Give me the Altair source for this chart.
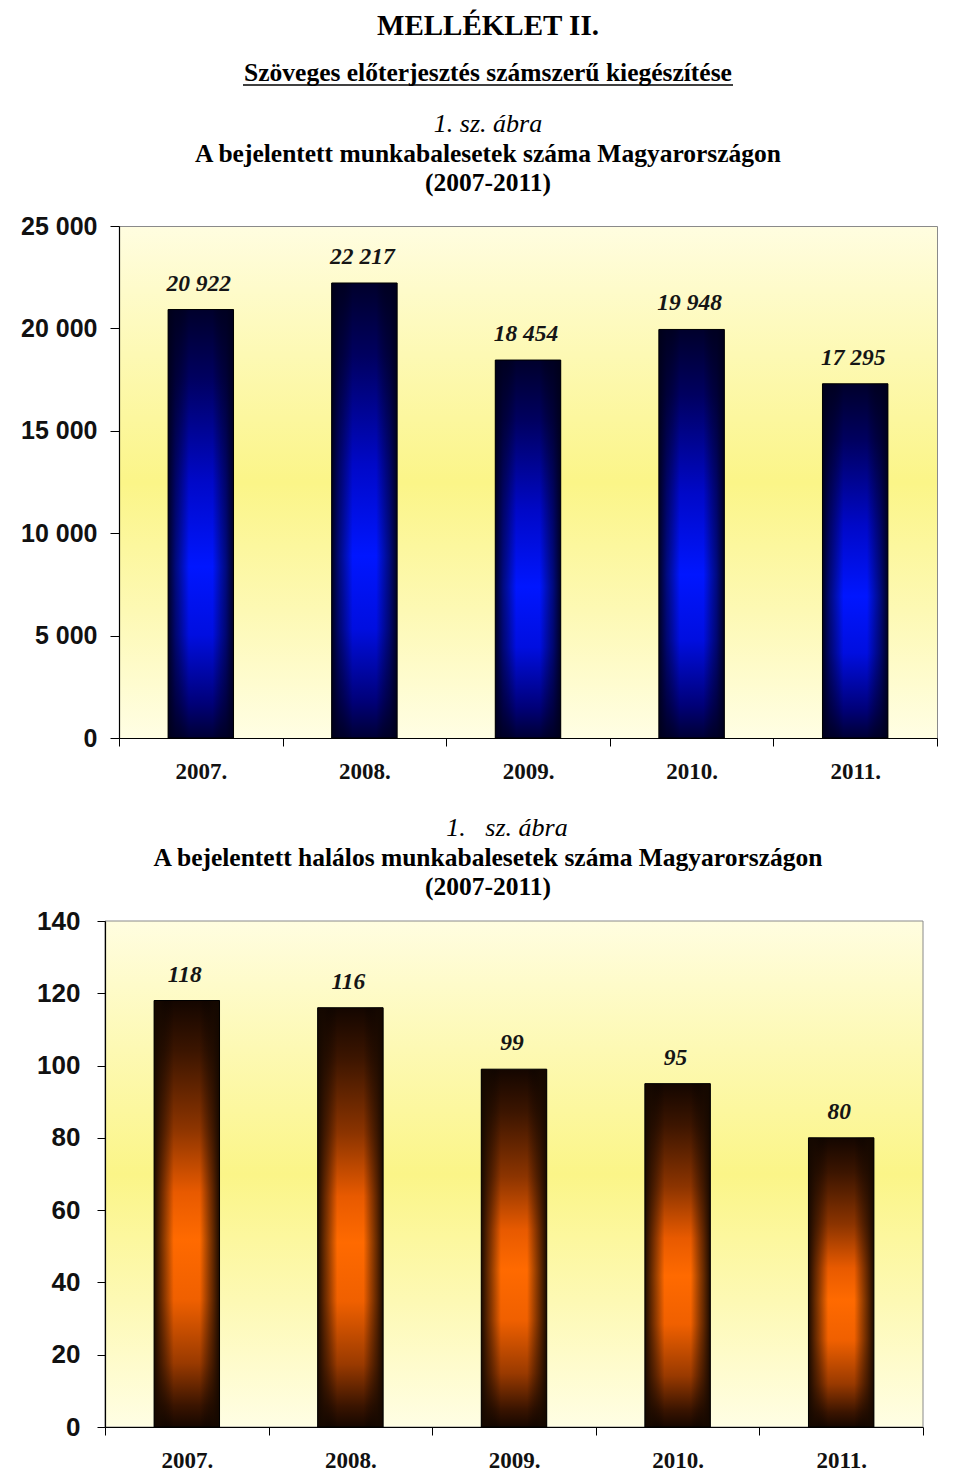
import altair as alt
import pandas as pd

# ---- data ----
years = ["2007.", "2008.", "2009.", "2010.", "2011."]
accidents = [20922, 22217, 18454, 19948, 17295]
fatal = [118, 116, 99, 95, 80]
y1_ticks = [0, 5000, 10000, 15000, 20000, 25000]
y2_ticks = [0, 20, 40, 60, 80, 100, 120, 140]

doc_title = "MELLÉKLET II."
doc_subtitle = "Szöveges előterjesztés számszerű kiegészítése"
fig_label_1 = "1. sz. ábra"
fig_title_1 = "A bejelentett munkabalesetek száma Magyarországon"
fig_label_2 = "1.\u00a0\u00a0\u00a0sz. ábra"
fig_title_2 = "A bejelentett halálos munkabalesetek száma Magyarországon"
fig_period = "(2007-2011)"

df1 = pd.DataFrame({"year": years, "value": accidents})
df2 = pd.DataFrame({"year": years, "value": fatal})

SERIF = "Liberation Serif"
SANS = "Liberation Sans"

bg_stops = [(0, "#fffde0"), (0.25, "#fdf9b4"), (0.5, "#fbf588"), (0.75, "#fdf9b4"),
            (1, "#fffee4")]
bg_expr = ("{gradient: 'linear', x1: 0, y1: 0, x2: 0, y2: 1, stops: ["
           + ", ".join("{offset: %s, color: '%s'}" % (o, c) for o, c in bg_stops) + "]}")


def grad_v(stops):
    return alt.Gradient(gradient="linear", x1=0, y1=0, x2=0, y2=1,
                        stops=[alt.GradientStop(offset=o, color=c) for o, c in stops])


def grad_h(stops):
    return alt.Gradient(gradient="linear", x1=0, y1=0, x2=1, y2=0,
                        stops=[alt.GradientStop(offset=o, color=c) for o, c in stops])


bg_grad = grad_v(bg_stops)
blue_v = grad_v([(0, "#00002c"), (0.16, "#000060"), (0.4, "#0008c8"),
                 (0.6, "#0016ff"), (0.76, "#000ee0"), (0.92, "#000078"), (1, "#000034")])
blue_side = grad_h([(0, "rgba(0,0,25,0.95)"), (0.12, "rgba(0,0,25,0.55)"),
                    (0.32, "rgba(0,0,0,0)"), (0.68, "rgba(0,0,0,0)"),
                    (0.88, "rgba(0,0,25,0.55)"), (1, "rgba(0,0,25,0.95)")])
orange_v = grad_v([(0, "#140600"), (0.12, "#3c1500"), (0.3, "#8c3400"), (0.45, "#e85a00"),
                   (0.56, "#ff6a00"), (0.7, "#f06000"), (0.85, "#9a3a00"), (0.95, "#3a1400"),
                   (1, "#160700")])
orange_side = grad_h([(0, "rgba(20,8,0,0.97)"), (0.1, "rgba(20,8,0,0.65)"),
                      (0.3, "rgba(0,0,0,0)"), (0.7, "rgba(0,0,0,0)"),
                      (0.9, "rgba(20,8,0,0.65)"), (1, "rgba(20,8,0,0.97)")])

one_row = alt.Data(values=[{}])


def text_line(s, xv, yv, size, weight="normal", style="normal"):
    return alt.Chart(one_row).mark_text(
        text=s, font=SERIF, fontSize=size, fontWeight=weight, fontStyle=style,
        color="#000", align="center", baseline="middle"
    ).encode(x=alt.value(xv), y=alt.value(yv))


def bar_chart(df, ticks, vmax, vgrad, sgrad, ylab_size, ylab_pad, ytick,
              xrange=None, yoffset=0):
    xscale = dict(paddingInner=0, paddingOuter=0)
    if xrange is not None:
        xscale["range"] = xrange
    x = alt.X("year:N", sort=years, title=None, scale=alt.Scale(**xscale),
              axis=alt.Axis(tickBand="extent", labelAngle=0, labelFont=SERIF,
                            labelFontWeight="bold", labelFontSize=23, labelColor="#111",
                            labelPadding=14, tickSize=8, tickColor="#000",
                            domainColor="#000", domainWidth=1.2, grid=False, zindex=1))
    y = alt.Y("value:Q", title=None, scale=alt.Scale(domain=[0, vmax], nice=False),
              axis=alt.Axis(values=ticks,
                            labelExpr="replace(format(datum.value, ','), ',', ' ')",
                            labelFont=SANS, labelFontWeight="bold", labelFontSize=ylab_size,
                            labelColor="#111", labelPadding=ylab_pad, tickSize=ytick,
                            tickColor="#000", domainColor="#000", domainWidth=1.2,
                            grid=False, offset=yoffset, zindex=1))
    base = alt.Chart(df)
    bars = base.mark_bar(width=alt.RelativeBandSize(0.4), fill=vgrad).encode(x=x, y=y)
    sides = base.mark_bar(width=alt.RelativeBandSize(0.4), fill=sgrad,
                          stroke="#000", strokeWidth=1).encode(x=x, y=y)
    labels = base.transform_calculate(
        lab="replace(format(datum.value, ','), ',', ' ')"
    ).mark_text(dy=-26, dx=-2, font=SERIF, fontStyle="italic", fontWeight="bold",
                fontSize=23.5, color="#151515", baseline="middle").encode(
        x=x, y=y, text="lab:N")
    return [bars, sides, labels]


# ---------- first figure ----------
W1, H1 = 818, 512
c1_layers = bar_chart(df1, y1_ticks, 25000, blue_v, blue_side, 25, 13, 9)
c1_head = [
    text_line(doc_title, 369, -200, 29, "bold"),
    text_line(doc_subtitle, 369, -153, 25.5, "bold"),
    alt.Chart(one_row).mark_rule(color="#000", strokeWidth=1.5).encode(
        x=alt.value(124), x2=alt.value(614), y=alt.value(-141)),
    text_line(fig_label_1, 369, -102, 26, "normal", "italic"),
    text_line(fig_title_1, 369, -72, 25.5, "bold"),
    text_line(fig_period, 369, -43, 25.5, "bold"),
]
chart1 = alt.layer(*c1_layers, *c1_head).properties(
    width=W1, height=H1,
    view=alt.ViewBackground(fill={"expr": bg_expr}, stroke="#8a8a8a", strokeWidth=1),
)

# ---------- second figure (its plot sits 14 px further left) ----------
SHIFT = 14
W2, H2 = 804, 506
panel2 = alt.Chart(one_row).mark_rect(fill=bg_grad, stroke="#8a8a8a", strokeWidth=1).encode(
    x=alt.value(-SHIFT), x2=alt.value(W2), y=alt.value(0), y2=alt.value(H2))
c2_layers = bar_chart(df2, y2_ticks, 140, orange_v, orange_side, 26, 17, 8,
                      xrange=[-SHIFT, W2], yoffset=SHIFT)
c2_head = [
    text_line(fig_label_2, 388, -93, 26, "normal", "italic"),
    text_line(fig_title_2, 369, -63, 25.5, "bold"),
    text_line(fig_period, 369, -34, 25.5, "bold"),
]
chart2 = alt.layer(panel2, *c2_layers, *c2_head).properties(
    width=W2, height=H2,
    view=alt.ViewBackground(fill=None, stroke=None),
)

chart = alt.vconcat(chart1, chart2, spacing=31, bounds="full").properties(
    padding={"left": 12, "top": 3, "right": 0, "bottom": 0},
    background="#ffffff",
)

chart.save("out.html", embed_options={"renderer": "svg", "actions": False})
